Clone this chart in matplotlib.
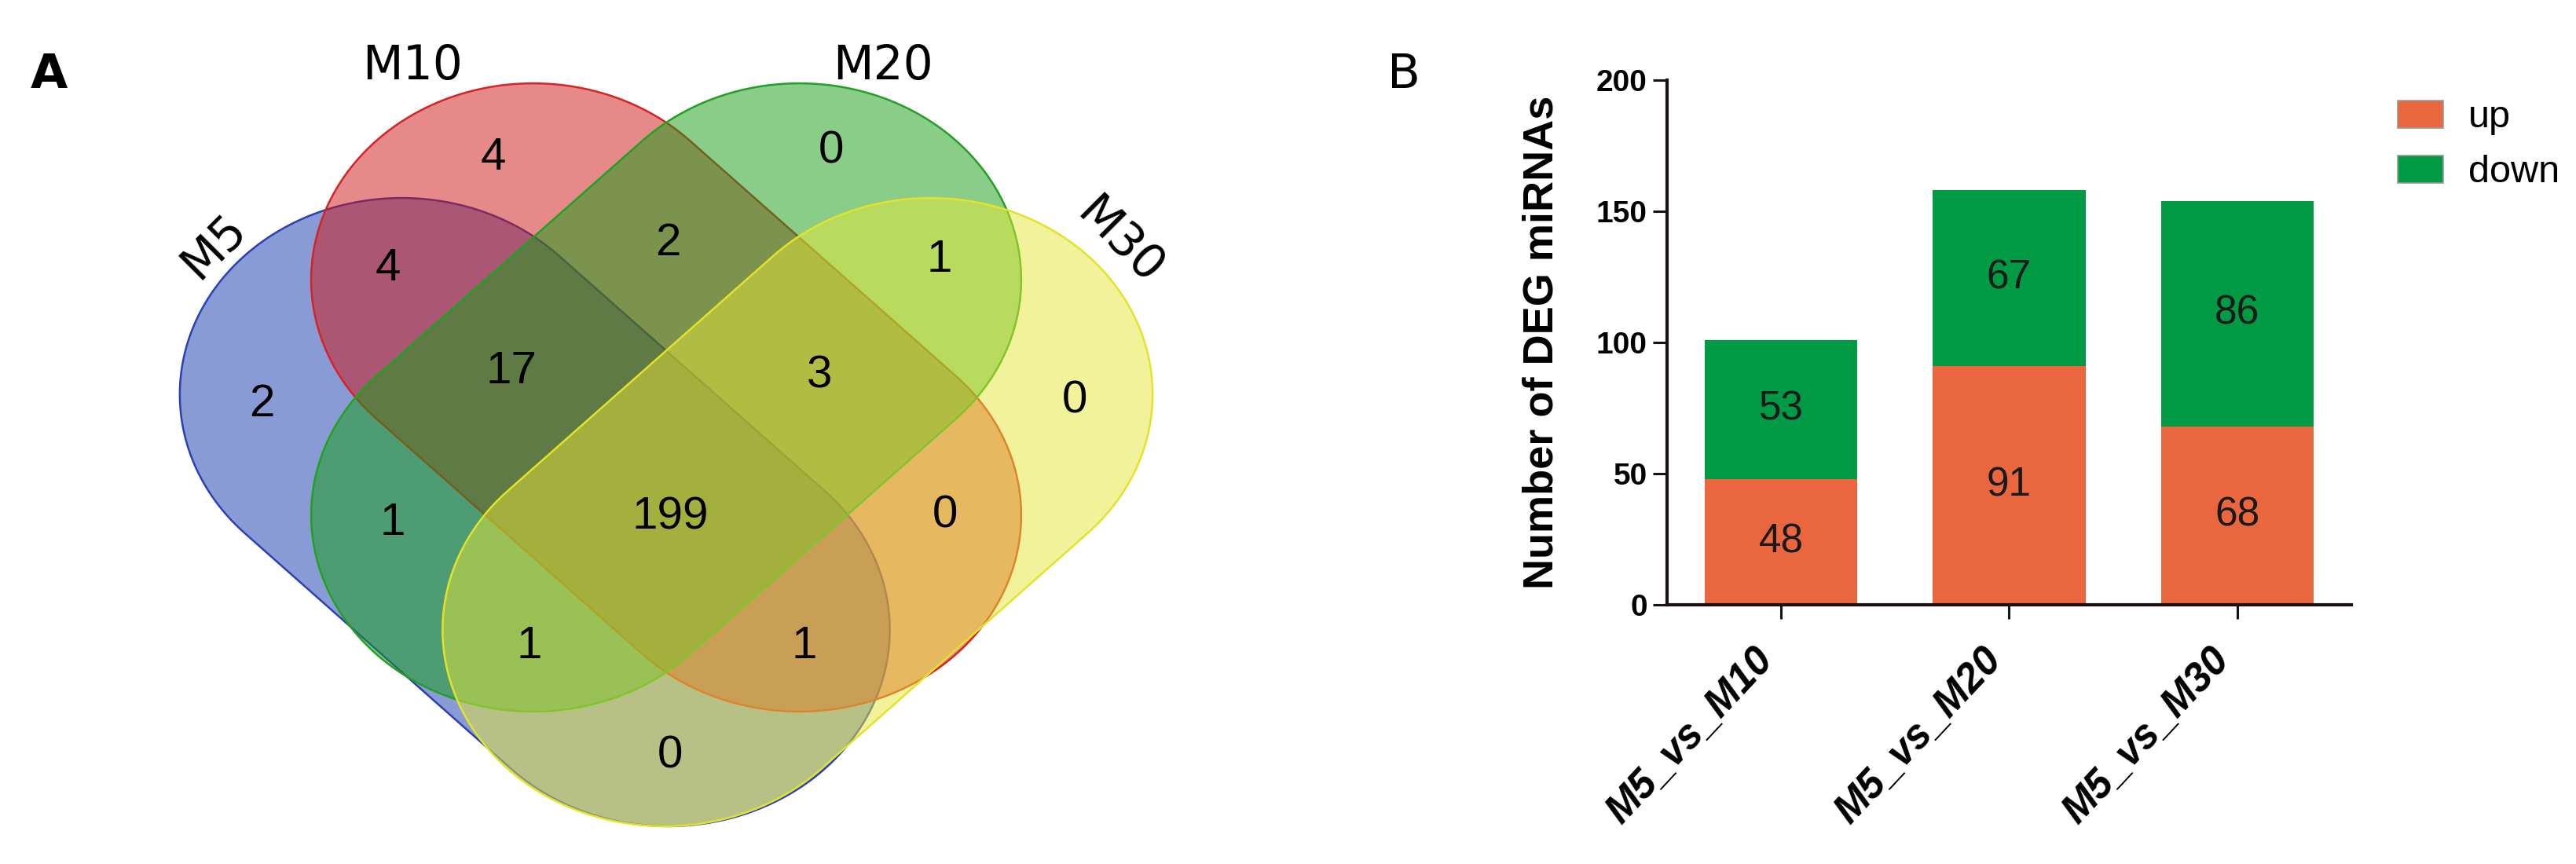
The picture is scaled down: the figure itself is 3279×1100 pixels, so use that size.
import numpy as np
import matplotlib
matplotlib.use('Agg')
import matplotlib.pyplot as plt
from matplotlib.patches import Polygon, Patch

# ---- data ----
set_names = ['M5', 'M10', 'M20', 'M30']
region_keys = ['M5', 'M10', 'M20', 'M30',
               'M5&M10', 'M10&M20', 'M20&M30', 'M5&M20', 'M10&M30', 'M5&M30',
               'M5&M10&M20', 'M10&M20&M30', 'M5&M20&M30', 'M5&M10&M30',
               'M5&M10&M20&M30']
region_counts = [2, 4, 0, 0,
                 4, 2, 1, 1, 0, 0,
                 17, 3, 1, 1,
                 199]

comparisons = ['M5_vs_M10', 'M5_vs_M20', 'M5_vs_M30']
up_counts = [48, 91, 68]
down_counts = [53, 67, 86]

# ---- layout (pixel space of the 3280x1100 canvas) ----
W, H = 3280, 1100
X0, STRETCH = 848, 1.13   # venn centre line, horizontal stretch
# capsule centre (u, v), tilt sign, fill, edge
shapes = {
    'M5':  ((-148, 652), 1, '#1539AD', '#2B3FB8'),
    'M10': ((0, 506), 1, '#CD1515', '#D42424'),
    'M20': ((0, 506), -1, '#159D15', '#22A022'),
    'M30': ((148, 652), -1, '#E7E737', '#E3E32A'),
}
set_label_pos = {'M5': (272, 314, 45), 'M10': (525, 84, 0),
                 'M20': (1124, 84, 0), 'M30': (1425, 308, -45)}
region_pos = [(333, 515), (628, 201), (1058, 193), (1368, 510),
              (494, 342), (850, 310), (1196, 331), (500, 666), (1203, 657), (853, 963),
              (651, 473), (1043, 478), (674, 823), (1024, 823),
              (853, 659)]


def capsule(centre, sign, half_len=212, r=250, n=120):
    d = np.array([sign, 1.0]) / np.sqrt(2)
    c = np.array(centre, dtype=float)
    p_top = c - half_len * d
    p_bot = c + half_len * d
    th = np.arctan2(d[1], d[0])
    a1 = np.linspace(th - np.pi / 2, th + np.pi / 2, n)
    a2 = np.linspace(th + np.pi / 2, th + 3 * np.pi / 2, n)
    pts = np.vstack([p_bot + r * np.c_[np.cos(a1), np.sin(a1)],
                     p_top + r * np.c_[np.cos(a2), np.sin(a2)]])
    pts[:, 0] = X0 + STRETCH * pts[:, 0]
    return pts


fig = plt.figure(figsize=(W / 100, H / 100), dpi=100)

# ---- panel A: venn ----
axv = fig.add_axes([0, 0, 1, 1])
axv.set_xlim(0, W)
axv.set_ylim(H, 0)
axv.axis('off')

for name in set_names:
    centre, sign, fc, ec = shapes[name]
    poly = Polygon(capsule(centre, sign), closed=True,
                   facecolor=matplotlib.colors.to_rgba(fc, 0.5),
                   edgecolor=ec, linewidth=1.8)
    axv.add_patch(poly)

for name in set_names:
    x, y, rot = set_label_pos[name]
    axv.text(x, y, name, ha='center', va='center', rotation=rot,
             fontsize=43, family='DejaVu Sans', color='black')

for (x, y), cnt in zip(region_pos, region_counts):
    axv.text(x, y, str(cnt), ha='center', va='center', fontsize=42,
             family='Liberation Sans', color='black')

fig.text(62 / W, 1 - 96 / H, 'A', ha='center', va='center', fontsize=44,
         weight='bold', family='DejaVu Sans')
fig.text(1787 / W, 1 - 96 / H, 'B', ha='center', va='center', fontsize=44,
         family='DejaVu Sans')

# ---- panel B: stacked bars ----
ax = fig.add_axes([2122 / W, 1 - 770 / H, (2993 - 2122) / W, (770 - 102) / H])
x = np.arange(len(comparisons))
narrow = ['Liberation Sans Narrow', 'Liberation Sans']
b_up = ax.bar(x, up_counts, width=0.67, color='#E9663F', label='up')
b_down = ax.bar(x, down_counts, bottom=up_counts, width=0.67, color='#009A44',
                label='down')
for bars in (b_up, b_down):
    ax.bar_label(bars, label_type='center', fontsize=37, family=narrow,
                 color='#1a1a1a')

ax.set_xlim(-0.5, 2.5)
ax.set_ylim(0, 200)
ax.set_yticks([0, 50, 100, 150, 200])
ax.set_xticks(x)
ax.set_xticklabels(comparisons, rotation=47, ha='right', fontsize=37,
                   family='Liberation Sans', weight='bold', style='italic')
for lbl in ax.get_yticklabels():
    lbl.set_fontsize(28)
    lbl.set_fontweight('bold')
    lbl.set_family('Liberation Sans')
for side in ('top', 'right'):
    ax.spines[side].set_visible(False)
for side in ('left', 'bottom'):
    ax.spines[side].set_linewidth(3)
    ax.spines[side].set_color('#1a1212')
ax.tick_params(axis='both', length=13, width=2.2, color='#1a1212', pad=5)
ax.tick_params(axis='x', pad=20)
ax.set_ylabel('Number of DEG miRNAs', fontsize=39, weight='bold',
              family='Liberation Sans')
ax.yaxis.set_label_coords(-(2122 - 1988) / (2993 - 2122), 0.5)

handles = [Patch(facecolor='#E9663F', edgecolor='#999999', linewidth=1.2),
           Patch(facecolor='#009A44', edgecolor='#999999', linewidth=1.2)]
leg = fig.legend(handles, ['up', 'down'], loc='upper left',
                 bbox_to_anchor=(3052 / W, 1 - 127 / H), frameon=False,
                 borderpad=0, borderaxespad=0, handlelength=1.2,
                 handleheight=0.73, handletextpad=0.65, labelspacing=0.52,
                 prop={'family': narrow, 'size': 35})

fig.savefig('out.png', dpi=100)
